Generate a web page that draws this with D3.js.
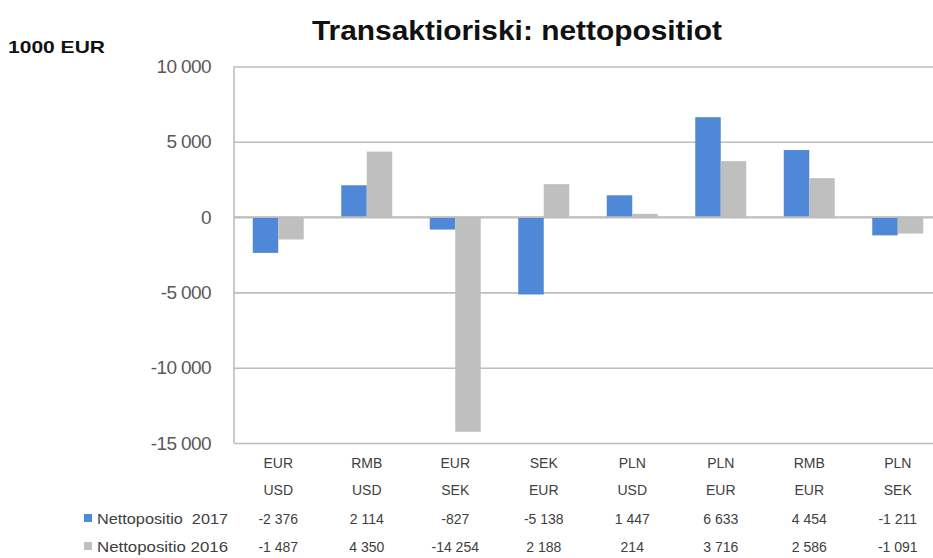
<!DOCTYPE html>
<html>
<head>
<meta charset="utf-8">
<script src="https://cdn.jsdelivr.net/npm/d3@7"></script>
<style>
  html, body { margin: 0; padding: 0; background: #fff; }
  svg { display: block; font-family: "Liberation Sans", Arial, sans-serif; }
</style>
</head>
<body>
<svg id="chart" width="933" height="558"></svg>
<script>
// ---- data ----
const catTop    = ["EUR", "RMB", "EUR", "SEK", "PLN", "PLN", "RMB", "PLN"];
const catBottom = ["USD", "USD", "SEK", "EUR", "USD", "EUR", "EUR", "SEK"];
const seriesNames = ["Nettopositio  2017", "Nettopositio 2016"];
const values2017 = [-2376, 2114, -827, -5138, 1447, 6633, 4454, -1211];
const values2016 = [-1487, 4350, -14254, 2188, 214, 3716, 2586, -1091];
const yTicks = [10000, 5000, 0, -5000, -10000, -15000];
const seriesColors = ["#4F88D6", "#BFBFBF"];
const titleText = "Transaktioriski: nettopositiot";
const unitText = "1000 EUR";

// ---- setup ----
const svg = d3.select("#chart");
const W = 933, H = 558;
const plot = { left: 234, right: 942, top: 66.5, bottom: 443 };
const cats = catTop.map((d, i) => d + "/" + catBottom[i]);
const seriesData = [values2017, values2016];

const loc = d3.formatLocale({ decimal: ",", thousands: " ", grouping: [3], currency: ["", ""], minus: "-" });
const fmt = loc.format(",d");

const y = d3.scaleLinear().domain([-15000, 10000]).range([plot.bottom, plot.top]);
const x0 = d3.scaleBand().domain(cats).range([plot.left, plot.right]).paddingInner(0.424).paddingOuter(0.212);
const x1 = d3.scaleBand().domain([0, 1]).range([0, x0.bandwidth()]);

// title
svg.append("text")
  .attr("x", 517).attr("y", 40)
  .attr("text-anchor", "middle")
  .attr("font-size", 28).attr("font-weight", "bold").attr("fill", "#111")
  .attr("textLength", 410).attr("lengthAdjust", "spacingAndGlyphs")
  .text(titleText);

svg.append("text")
  .attr("x", 8).attr("y", 53)
  .attr("font-size", 17).attr("font-weight", "bold").attr("fill", "#111")
  .attr("textLength", 97).attr("lengthAdjust", "spacingAndGlyphs")
  .text(unitText);

// gridlines + y axis
const yAxis = d3.axisLeft(y).tickValues(yTicks).tickFormat(fmt)
  .tickSize(-(plot.right - plot.left)).tickPadding(23);
const gy = svg.append("g").attr("transform", `translate(${plot.left},0)`).call(yAxis);
gy.select(".domain").remove();
gy.selectAll(".tick line").attr("stroke", "#BDBDBD").attr("stroke-width", 1.6);
gy.selectAll(".tick text")
  .attr("font-size", 19).attr("fill", "#595959")
  .attr("font-family", "'Liberation Sans', Arial, sans-serif")
  .attr("letter-spacing", -0.6);

// left border
svg.append("line")
  .attr("x1", plot.left).attr("x2", plot.left)
  .attr("y1", plot.top).attr("y2", plot.bottom)
  .attr("stroke", "#BDBDBD").attr("stroke-width", 1.6);

// bars
const groups = svg.append("g").selectAll("g")
  .data(cats).join("g")
  .attr("transform", d => `translate(${x0(d)},0)`);

groups.selectAll("rect")
  .data((d, i) => seriesData.map((s, k) => ({ k, v: s[i] })))
  .join("rect")
  .attr("x", d => x1(d.k))
  .attr("width", x1.bandwidth())
  .attr("y", d => y(Math.max(0, d.v)))
  .attr("height", d => Math.abs(y(d.v) - y(0)))
  .attr("fill", d => seriesColors[d.k]);

// redraw zero line on top lightly
svg.append("line")
  .attr("x1", plot.left).attr("x2", plot.right)
  .attr("y1", y(0)).attr("y2", y(0))
  .attr("stroke", "#BDBDBD").attr("stroke-width", 1.6);

// data table
const tableFont = 14;
const tg = svg.append("g").attr("font-size", tableFont).attr("fill", "#404040");
const cx = d => x0(d) + x0.bandwidth() / 2;

tg.selectAll(".ct").data(cats).join("text")
  .attr("x", cx).attr("y", 468).attr("text-anchor", "middle")
  .text((d, i) => catTop[i]);
tg.selectAll(".cb").data(cats).join("text")
  .attr("x", cx).attr("y", 495).attr("text-anchor", "middle")
  .text((d, i) => catBottom[i]);

const rowY = [524, 552];
seriesData.forEach((s, k) => {
  tg.append("g").selectAll("text").data(cats).join("text")
    .attr("x", cx).attr("y", rowY[k]).attr("text-anchor", "middle")
    .text((d, i) => fmt(s[i]));
  svg.append("rect")
    .attr("x", 84).attr("y", rowY[k] - 10).attr("width", 8).attr("height", 8)
    .attr("fill", seriesColors[k]);
  svg.append("text")
    .attr("x", 97).attr("y", rowY[k])
    .attr("font-size", 15).attr("fill", "#404040")
    .attr("textLength", 131).attr("lengthAdjust", "spacingAndGlyphs")
    .style("white-space", "pre")
    .text(seriesNames[k]);
});
</script>
</body>
</html>
